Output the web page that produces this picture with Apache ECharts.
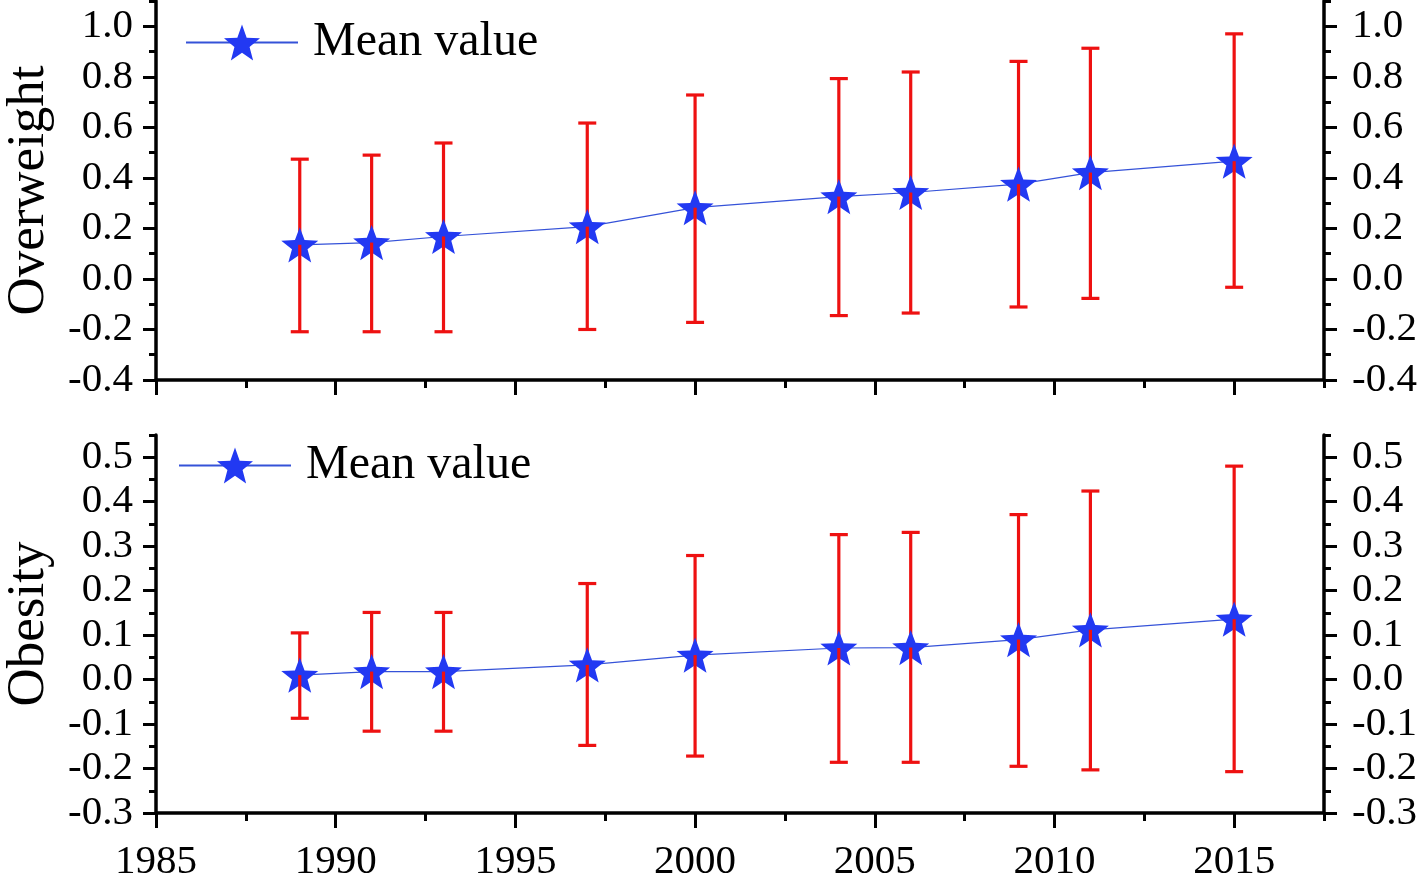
<!DOCTYPE html>
<html>
<head>
<meta charset="utf-8">
<script src="https://cdn.jsdelivr.net/npm/echarts@6/dist/echarts.min.js"></script>
<style>
html,body{margin:0;padding:0;background:#fff;}
#chart{width:1421px;height:887px;}
</style>
</head>
<body>
<div id="chart"></div>
<script>
// ---- Data ----
const years = [1989, 1991, 1993, 1997, 2000, 2004, 2006, 2009, 2011, 2015];
const overweightMean  = [0.135, 0.144, 0.168, 0.207, 0.282, 0.326, 0.342, 0.375, 0.421, 0.466];
const overweightUpper = [0.474, 0.490, 0.538, 0.617, 0.728, 0.793, 0.819, 0.861, 0.913, 0.970];
const overweightLower = [-0.209, -0.209, -0.209, -0.200, -0.172, -0.145, -0.135, -0.111, -0.077, -0.033];
const obesityMean  = [0.010, 0.018, 0.018, 0.033, 0.055, 0.071, 0.072, 0.090, 0.112, 0.136];
const obesityUpper = [0.105, 0.151, 0.151, 0.216, 0.279, 0.326, 0.331, 0.371, 0.424, 0.480];
const obesityLower = [-0.087, -0.116, -0.116, -0.148, -0.172, -0.186, -0.186, -0.195, -0.203, -0.207];

const xMajorTicks = [1985, 1990, 1995, 2000, 2005, 2010, 2015];
const xMinorTicks = [1987.5, 1992.5, 1997.5, 2002.5, 2007.5, 2012.5, 2017.5];
const owMajorTicks = [-0.4, -0.2, 0, 0.2, 0.4, 0.6, 0.8, 1.0];
const owMinorTicks = [-0.3, -0.1, 0.1, 0.3, 0.5, 0.7, 0.9, 1.1];
const obMajorTicks = [-0.3, -0.2, -0.1, 0, 0.1, 0.2, 0.3, 0.4, 0.5];
const obMinorTicks = [-0.25, -0.15, -0.05, 0.05, 0.15, 0.25, 0.35, 0.45, 0.55];

const seriesName = 'Mean value';
const yNames = ['Overweight', 'Obesity'];

// ---- Styles ----
const FONT = '"Liberation Serif", "Times New Roman", serif';
const BLACK = '#000';
const STAR_COLOR = '#2239f2';
const LINE_COLOR = '#3552d8';
const ERR_COLOR = '#ee1111';

function starPath() {
  const pts = [];
  for (let i = 0; i < 10; i++) {
    const r = i % 2 === 0 ? 50 : 21;
    const a = -Math.PI / 2 + i * Math.PI / 5;
    pts.push((50 + r * Math.cos(a)).toFixed(2) + ',' + (50 + r * Math.sin(a)).toFixed(2));
  }
  return 'path://M' + pts.join('L') + 'Z';
}
const STAR = starPath();

function fmt(v) { return (Math.round(v * 10) / 10).toFixed(1); }

function xAxes(gridIndex) {
  return [
    {
      type: 'value', gridIndex, position: 'bottom', min: 1985, max: 2017.5,
      axisLine: { show: true, onZero: false, lineStyle: { color: BLACK, width: 3.5 } },
      axisTick: { show: true, customValues: xMajorTicks, length: 15, lineStyle: { color: BLACK, width: 3 } },
      axisLabel: {
        show: gridIndex === 1, customValues: xMajorTicks, margin: 29,
        fontFamily: FONT, fontSize: 41, color: BLACK, formatter: v => String(v)
      },
      splitLine: { show: false }
    },
    {
      type: 'value', gridIndex, position: 'bottom', min: 1985, max: 2017.5,
      axisLine: { show: false, onZero: false },
      axisTick: { show: true, customValues: xMinorTicks, length: 8, lineStyle: { color: BLACK, width: 3 } },
      axisLabel: { show: false },
      splitLine: { show: false }
    }
  ];
}

function yAxes(gridIndex, min, max, majors, minors, name) {
  const arr = [];
  ['left', 'right'].forEach(pos => {
    arr.push({
      type: 'value', gridIndex, position: pos, min, max,
      name: pos === 'left' ? name : '',
      nameLocation: 'middle', nameGap: 100, nameRotate: 90,
      nameTextStyle: { fontFamily: FONT, fontSize: 53, color: BLACK },
      axisLine: { show: true, onZero: false, lineStyle: { color: BLACK, width: 3.5 } },
      axisTick: { show: true, customValues: majors, length: 13, lineStyle: { color: BLACK, width: 3 } },
      axisLabel: {
        show: true, customValues: majors, margin: pos === 'left' ? 23 : 28,
        fontFamily: FONT, fontSize: 41, color: BLACK, formatter: fmt
      },
      splitLine: { show: false }
    });
    arr.push({
      type: 'value', gridIndex, position: pos, min, max,
      axisLine: { show: false, onZero: false },
      axisTick: { show: true, customValues: minors, length: 7, lineStyle: { color: BLACK, width: 3 } },
      axisLabel: { show: false },
      splitLine: { show: false }
    });
  });
  return arr;
}

// part: 'upper' draws mean -> high with cap, 'lower' draws mean -> low with cap
function makeErrRender(part) {
  return function (params, api) {
    const x = api.value(0), lo = api.value(1), hi = api.value(2), m = api.value(3);
    const pEnd = api.coord([x, part === 'upper' ? hi : lo]);
    const pMid = api.coord([x, m]);
    const hw = 9;
    const style = { stroke: ERR_COLOR, lineWidth: 3.2, fill: null };
    return {
      type: 'group',
      children: [
        { type: 'line', shape: { x1: pMid[0], y1: pMid[1], x2: pEnd[0], y2: pEnd[1] }, style },
        { type: 'line', shape: { x1: pEnd[0] - hw, y1: pEnd[1], x2: pEnd[0] + hw, y2: pEnd[1] }, style }
      ]
    };
  };
}

const owErr = years.map((y, i) => [y, overweightLower[i], overweightUpper[i], overweightMean[i]]);
const obErr = years.map((y, i) => [y, obesityLower[i], obesityUpper[i], obesityMean[i]]);
const owLine = years.map((y, i) => [y, overweightMean[i]]);
const obLine = years.map((y, i) => [y, obesityMean[i]]);

function lineSeries(xi, yi, data) {
  return {
    name: seriesName, type: 'line', xAxisIndex: xi, yAxisIndex: yi, data,
    symbol: STAR, symbolSize: 37, symbolKeepAspect: true,
    itemStyle: { color: STAR_COLOR },
    lineStyle: { color: LINE_COLOR, width: 1.2 },
    z: 5, animation: false
  };
}

function errSeries(xi, yi, data, part) {
  return {
    type: 'custom', name: 'err_' + part, xAxisIndex: xi, yAxisIndex: yi, data,
    renderItem: makeErrRender(part), encode: { x: 0, y: [1, 2] },
    z: part === 'upper' ? 3 : 7, animation: false
  };
}

const legendCommon = {
  orient: 'horizontal', padding: 0, itemWidth: 112, itemHeight: 45, itemGap: 0,
  selectedMode: false,
  textStyle: { fontFamily: FONT, fontSize: 48, color: BLACK, padding: [0, 0, 0, 10] },
  data: [seriesName]
};

const option = {
  backgroundColor: '#fff',
  animation: false,
  legend: [
    Object.assign({}, legendCommon, { left: 185, top: 18.5 }),
    Object.assign({}, legendCommon, { left: 178, top: 441.5 })
  ],
  grid: [
    { left: 156, width: 1168, top: 1, height: 379, containLabel: false, outerBoundsMode: 'none' },
    { left: 156, width: 1168, top: 435, height: 378, containLabel: false, outerBoundsMode: 'none' }
  ],
  xAxis: xAxes(0).concat(xAxes(1)),
  yAxis: yAxes(0, -0.4, 1.1, owMajorTicks, owMinorTicks, yNames[0])
    .concat(yAxes(1, -0.3, 0.55, obMajorTicks, obMinorTicks, yNames[1])),
  series: [
    errSeries(0, 0, owErr, 'upper'),
    errSeries(2, 4, obErr, 'upper'),
    lineSeries(0, 0, owLine),
    lineSeries(2, 4, obLine),
    errSeries(0, 0, owErr, 'lower'),
    errSeries(2, 4, obErr, 'lower')
  ]
};

const chart = echarts.init(document.getElementById('chart'), null, { renderer: 'canvas' });
chart.setOption(option);
</script>
</body>
</html>
